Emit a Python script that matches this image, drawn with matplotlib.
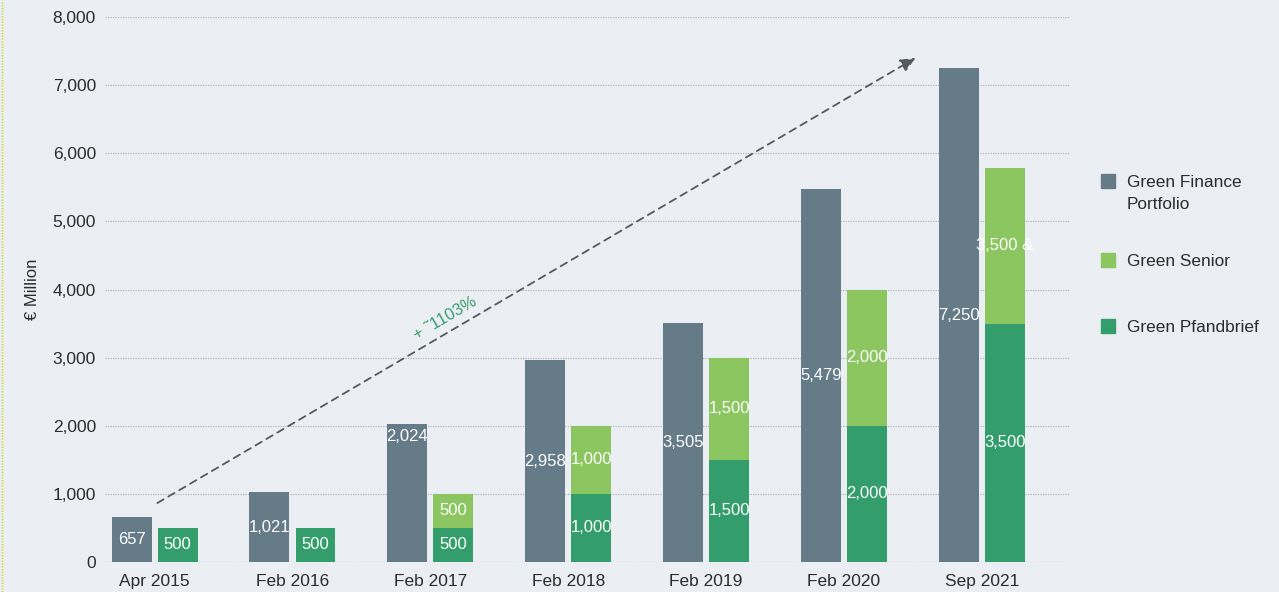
import numpy as np
import matplotlib.pyplot as plt
from matplotlib.patches import Rectangle
from matplotlib.lines import Line2D

plt.rcParams['font.family'] = ['Liberation Sans', 'DejaVu Sans']

# € million per reporting date
dates = ['Apr 2015', 'Feb 2016', 'Feb 2017', 'Feb 2018', 'Feb 2019', 'Feb 2020', 'Sep 2021']
portfolio = [657, 1021, 2024, 2958, 3505, 5479, 7250]
pfandbrief = [500, 500, 500, 1000, 1500, 2000, 3500]
senior = [0, 0, 500, 1000, 1500, 2000, 2290]
senior_text = ['', '', '500', '1,000', '1,500', '2,000', '3,500 &']
growth_text = '+ ˜1103%'

bg = '#ebeff3'
c_port = '#657b87'
c_senior = '#8cc660'
c_pfand = '#339e6c'
txt = '#2c2c2c'

fig = plt.figure(figsize=(12.79, 5.92), dpi=100, facecolor=bg)
ax = fig.add_axes([105/1279, 1-562/592, (1070-105)/1279, (562-17)/592])
ax.set_facecolor(bg)

x = np.arange(len(dates))
w = 0.29
off = 0.167

ax.bar(x - off, portfolio, w, color=c_port, zorder=3)
ax.bar(x + off, pfandbrief, w, color=c_pfand, zorder=3)
ax.bar(x + off, senior, w, bottom=pfandbrief, color=c_senior, zorder=3)

fmt = lambda v: f'{v:,}'
lbl = dict(color='white', fontsize=12, ha='center', va='center', zorder=5)
label_y = {2: 1835}  # the 2,024 label sits higher in its bar
for i, v in enumerate(portfolio):
    ax.text(x[i] - off, label_y.get(i, v / 2), fmt(v), **lbl)
for i, v in enumerate(pfandbrief):
    ax.text(x[i] + off, v / 2, fmt(v), **lbl)
for i, v in enumerate(senior):
    if v:
        ax.text(x[i] + off, pfandbrief[i] + v / 2, senior_text[i], **lbl)

ax.set_xlim(-0.36, 6.64)
ax.set_ylim(0, 8000)
ax.set_yticks(np.arange(0, 8001, 1000))
ax.set_yticklabels([fmt(v) for v in range(0, 8001, 1000)])
ax.set_xticks(x)
ax.set_xticklabels(dates)
ax.tick_params(length=0, labelsize=12.5, labelcolor=txt)
ax.tick_params(axis='y', pad=6.5)
ax.tick_params(axis='x', pad=8.5)
for s in ax.spines.values():
    s.set_visible(False)
ax.yaxis.grid(True, linestyle=(0, (1, 1)), color='#b5b9bd', linewidth=0.9, zorder=0)
ax.set_axisbelow(True)
ax.set_ylabel('€ Million', fontsize=12, color=txt, labelpad=9)

# growth arrow
ax.annotate('', xy=(5.52, 7400), xytext=(0.02, 866),
            arrowprops=dict(arrowstyle='-|>,head_length=0.9,head_width=0.4',
                            color='#555a5e', lw=1.3, linestyle=(0, (4, 3)),
                            shrinkA=0, shrinkB=0), zorder=6)
ax.text(2.107, 3583, growth_text, color='#3a9e6e', fontsize=12, rotation=30.4,
        ha='center', va='center', rotation_mode='anchor', zorder=6)

# legend on the right
items = [(c_port, 'Green Finance\nPortfolio', 174), (c_senior, 'Green Senior', 253),
         (c_pfand, 'Green Pfandbrief', 319)]
for col, lab, top in items:
    fig.add_artist(Rectangle((1101/1279, 1-(top+14)/592), 14/1279, 14/592,
                             transform=fig.transFigure, color=col))
    lines = lab.split('\n')
    for k, line in enumerate(lines):
        fig.text(1127/1279, 1-(top+7+22*k)/592, line, fontsize=12.4, color=txt,
                 va='center_baseline')

# dotted edge on the left
fig.add_artist(Line2D([1.5/1279, 1.5/1279], [0, 1], transform=fig.transFigure,
                      color='#d6d61a', linestyle=(0, (1, 1)), linewidth=1))

fig.savefig('out.png', dpi=100, facecolor=bg)
